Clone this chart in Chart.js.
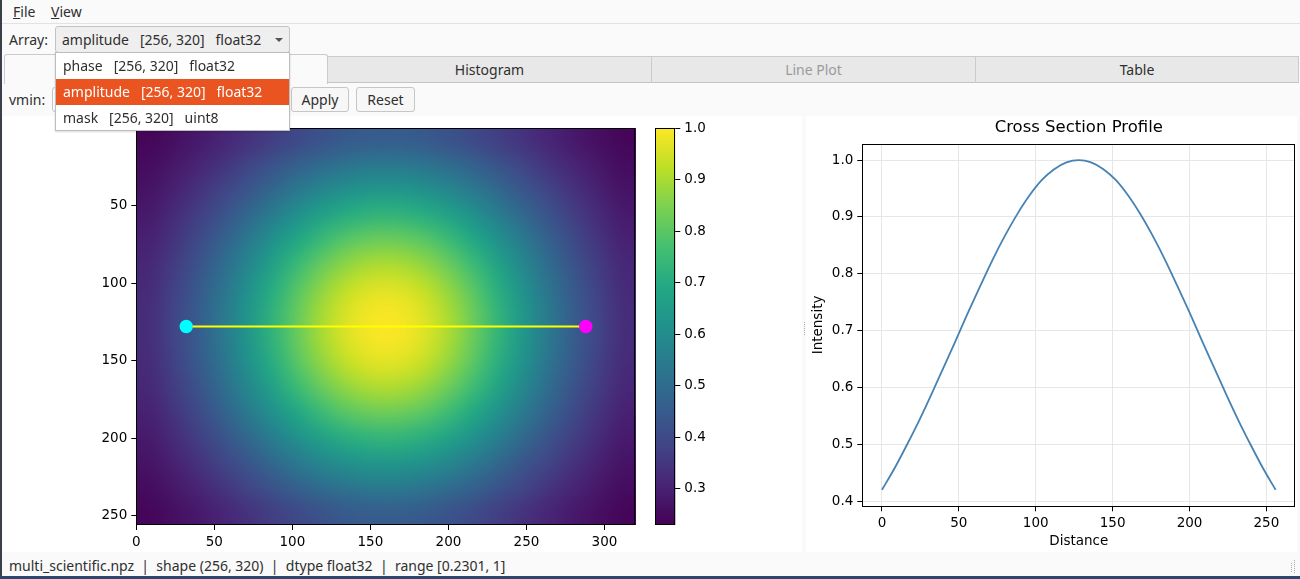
<!DOCTYPE html>
<html>
<head>
<meta charset="utf-8">
<script src="https://cdn.jsdelivr.net/npm/chart.js"></script>
<style>
html,body{margin:0;padding:0;}
body{width:1300px;height:579px;position:relative;overflow:hidden;background:#fafafa;font-family:"Noto Sans",sans-serif;font-size:14px;color:#2f2f2f;}
.a{position:absolute;white-space:pre;}
#leftedge{position:absolute;left:0;top:0;width:2px;height:579px;background:#3b3f46;z-index:50;}
#bottomedge{position:absolute;left:0;top:576px;width:1300px;height:3px;background:#2d4670;z-index:50;}
#menubar{position:absolute;left:0;top:0;width:1300px;height:23px;border-bottom:1px solid #e2e2e2;}
.mi{position:absolute;top:2px;line-height:20px;}
#combo{position:absolute;left:55px;top:26px;width:233px;height:25px;border:1px solid #c3c3c3;border-radius:3px;background:#efefef;}
#combo .t{position:absolute;left:6px;top:0;line-height:25px;white-space:pre;}
#combo .arr{position:absolute;left:219px;top:11px;width:0;height:0;border-left:4px solid transparent;border-right:4px solid transparent;border-top:4px solid #555;}
.tab{position:absolute;top:56px;background:#e8e8e8;border:1px solid #cbcbcb;border-bottom:1px solid #c4c4c4;box-sizing:border-box;height:27px;text-align:center;line-height:25px;color:#2f2f2f;}
.tab.sel{top:54px;height:30px;background:#fafafa;border-bottom:none;border-radius:3px 3px 0 0;}
.tab.dis{color:#9a9a9a;}
#vmininput{position:absolute;left:52px;top:87px;width:236px;height:25px;border:1px solid #c3c3c3;border-radius:3px;background:#fff;box-sizing:border-box;}
.btn{position:absolute;top:87px;height:25px;border:1px solid #c6c6c6;border-radius:3px;background:#f7f7f7;box-sizing:border-box;text-align:center;line-height:23px;}
#popup{position:absolute;left:55px;top:52px;width:235px;height:79px;background:#fff;border:1px solid #bdbdbd;box-sizing:border-box;z-index:20;box-shadow:0 1px 2px rgba(0,0,0,0.15);}
.it{position:absolute;left:0;width:233px;height:26px;line-height:26px;padding-left:7px;box-sizing:border-box;white-space:pre;}
.it.hl{background:#e95420;color:#fff;}
#figL{position:absolute;left:3px;top:116px;width:799px;height:436px;background:#fff;}
#figR{position:absolute;left:806px;top:116px;width:491px;height:436px;background:#fff;}
canvas{position:absolute;}
#status{position:absolute;left:9px;top:555px;line-height:22px;white-space:pre;}
.dots{position:absolute;width:1px;background-image:linear-gradient(#aaa 50%,transparent 50%);background-size:1px 2px;}
</style>
</head>
<body>
<div id="leftedge"></div>
<div id="bottomedge"></div>
<div id="menubar">
  <span class="mi" style="left:13px"><u>F</u>ile</span>
  <span class="mi" style="left:51px"><u>V</u>iew</span>
</div>
<div class="a" style="left:9px;top:29px;line-height:22px;">Array:</div>
<div id="combo"><span class="t">amplitude   [256, 320]   float32</span><span class="arr"></span></div>

<div class="tab sel" style="left:4px;width:324px;"></div>
<div class="tab" style="left:327px;width:325px;">Histogram</div>
<div class="tab dis" style="left:651px;width:325px;">Line Plot</div>
<div class="tab" style="left:975px;width:324px;">Table</div>

<div class="a" style="left:9px;top:89px;line-height:22px;">vmin:</div>
<div id="vmininput"></div>
<div class="btn" style="left:291px;width:58px;">Apply</div>
<div class="btn" style="left:356px;width:59px;">Reset</div>

<div id="popup">
  <div class="it" style="top:0px;">phase   [256, 320]   float32</div>
  <div class="it hl" style="top:26px;">amplitude   [256, 320]   float32</div>
  <div class="it" style="top:52px;">mask   [256, 320]   uint8</div>
</div>

<div id="figL">
  <canvas id="heat" width="799" height="436" style="left:0;top:0;"></canvas>
  <canvas id="cbar" width="80" height="436" style="left:637px;top:0;"></canvas>
</div>
<div class="dots" style="left:804px;top:322px;height:14px;"></div>
<div id="figR">
  <canvas id="prof" width="491" height="436" style="left:0;top:0;"></canvas>
</div>
<div id="status">multi_scientific.npz  |  shape (256, 320)  |  dtype float32  |  range [0.2301, 1]</div>
<div class="dots" style="left:1291px;top:563px;height:10px;"></div>
<div class="dots" style="left:1294px;top:560px;height:13px;"></div>

<script>
// ---------- DATA ----------
// Heatmap samples (cell centres every 16 px; 16 rows x 20 columns), amplitude array 256x320
const heatExtentX = [0, 320];
const heatExtentY = [0, 256];
const heatValues = [
 [0.242,0.260,0.283,0.310,0.340,0.371,0.401,0.427,0.446,0.456,0.456,0.446,0.427,0.401,0.371,0.340,0.310,0.283,0.260,0.242],
 [0.255,0.280,0.310,0.346,0.386,0.427,0.467,0.501,0.526,0.540,0.540,0.526,0.501,0.467,0.427,0.386,0.346,0.310,0.280,0.255],
 [0.270,0.301,0.340,0.386,0.436,0.489,0.540,0.583,0.616,0.633,0.633,0.616,0.583,0.540,0.489,0.436,0.386,0.340,0.301,0.270],
 [0.286,0.324,0.371,0.427,0.489,0.554,0.616,0.669,0.708,0.729,0.729,0.708,0.669,0.616,0.554,0.489,0.427,0.371,0.324,0.286],
 [0.301,0.346,0.401,0.467,0.540,0.616,0.688,0.751,0.797,0.822,0.822,0.797,0.751,0.688,0.616,0.540,0.467,0.401,0.346,0.301],
 [0.314,0.364,0.427,0.501,0.583,0.669,0.751,0.822,0.874,0.902,0.902,0.874,0.822,0.751,0.669,0.583,0.501,0.427,0.364,0.314],
 [0.324,0.378,0.446,0.526,0.616,0.708,0.797,0.874,0.931,0.961,0.961,0.931,0.874,0.797,0.708,0.616,0.526,0.446,0.378,0.324],
 [0.329,0.386,0.456,0.540,0.633,0.729,0.822,0.902,0.961,0.992,0.992,0.961,0.902,0.822,0.729,0.633,0.540,0.456,0.386,0.329],
 [0.329,0.386,0.456,0.540,0.633,0.729,0.822,0.902,0.961,0.992,0.992,0.961,0.902,0.822,0.729,0.633,0.540,0.456,0.386,0.329],
 [0.324,0.378,0.446,0.526,0.616,0.708,0.797,0.874,0.931,0.961,0.961,0.931,0.874,0.797,0.708,0.616,0.526,0.446,0.378,0.324],
 [0.314,0.364,0.427,0.501,0.583,0.669,0.751,0.822,0.874,0.902,0.902,0.874,0.822,0.751,0.669,0.583,0.501,0.427,0.364,0.314],
 [0.301,0.346,0.401,0.467,0.540,0.616,0.688,0.751,0.797,0.822,0.822,0.797,0.751,0.688,0.616,0.540,0.467,0.401,0.346,0.301],
 [0.286,0.324,0.371,0.427,0.489,0.554,0.616,0.669,0.708,0.729,0.729,0.708,0.669,0.616,0.554,0.489,0.427,0.371,0.324,0.286],
 [0.270,0.301,0.340,0.386,0.436,0.489,0.540,0.583,0.616,0.633,0.633,0.616,0.583,0.540,0.489,0.436,0.386,0.340,0.301,0.270],
 [0.255,0.280,0.310,0.346,0.386,0.427,0.467,0.501,0.526,0.540,0.540,0.526,0.501,0.467,0.427,0.386,0.346,0.310,0.280,0.255],
 [0.242,0.260,0.283,0.310,0.340,0.371,0.401,0.427,0.446,0.456,0.456,0.446,0.427,0.401,0.371,0.340,0.310,0.283,0.260,0.242]
];
const vmin = 0.2301;
const vmax = 1.0;

// Cross-section line endpoints (image coords)
const lineX = [32, 288];
const lineY = [128, 128];

// Profile along the line
const profileDist = [0,8,16,24,32,40,48,56,64,72,80,88,96,104,112,120,128,136,144,152,160,168,176,184,192,200,208,216,224,232,240,248,256];
const profileVals = [0.420,0.457,0.498,0.541,0.587,0.635,0.683,0.732,0.779,0.825,0.867,0.905,0.938,0.965,0.984,0.996,1.000,0.996,0.984,0.965,0.938,0.905,0.867,0.825,0.779,0.732,0.683,0.635,0.587,0.541,0.498,0.457,0.420];

// Tick labels
const heatXTicks = [0,50,100,150,200,250,300];
const heatYTicks = [50,100,150,200,250];
const cbarTicks = [0.3,0.4,0.5,0.6,0.7,0.8,0.9,1.0];
const profXTicks = [0,50,100,150,200,250];
const profYTicks = [0.4,0.5,0.6,0.7,0.8,0.9,1.0];
const profXRange = [-12.8, 268.8];
const profYRange = [0.391, 1.029];

// ---------- STYLE ----------
const viridis = ['#440154','#482475','#414487','#355f8d','#2a788e','#21918c','#22a884','#44bf70','#7ad151','#bddf26','#fde725'];
const endpointColors = ['#00ffff', '#ff00ff'];
const FONT = 'DejaVu Sans';
Chart.defaults.font.family = FONT;
Chart.defaults.font.size = 13.5;
Chart.defaults.color = '#000';

function hexToRgb(h){return [parseInt(h.substr(1,2),16),parseInt(h.substr(3,2),16),parseInt(h.substr(5,2),16)];}
function cmap(t){
  t = Math.max(0, Math.min(1, t));
  const p = t * (viridis.length - 1);
  const i = Math.min(viridis.length - 2, Math.floor(p));
  const f = p - i;
  const a = hexToRgb(viridis[i]), b = hexToRgb(viridis[i+1]);
  return [0,1,2].map(k => Math.round(a[k] + (b[k]-a[k]) * f));
}

// offscreen image of the heat samples
const rows = heatValues.length, cols = heatValues[0].length;
const off = document.createElement('canvas');
off.width = cols; off.height = rows;
const octx = off.getContext('2d');
const img = octx.createImageData(cols, rows);
heatValues.forEach((row, r) => row.forEach((v, c) => {
  const col = cmap((v - vmin) / (vmax - vmin));
  const o = (r * cols + c) * 4;
  img.data[o] = col[0]; img.data[o+1] = col[1]; img.data[o+2] = col[2]; img.data[o+3] = 255;
}));
octx.putImageData(img, 0, 0);

const framePlugin = {
  id: 'frame',
  afterDatasetsDraw(chart) {
    const {ctx, chartArea: a} = chart;
    ctx.save();
    ctx.strokeStyle = '#000'; ctx.lineWidth = 1;
    ctx.strokeRect(Math.round(a.left) + 0.5, Math.round(a.top) + 0.5, Math.round(a.right - a.left) - 1, Math.round(a.bottom - a.top) - 1);
    ctx.restore();
  }
};

const heatImagePlugin = {
  id: 'heatImage',
  beforeDatasetsDraw(chart) {
    const {ctx, scales: {x, y}} = chart;
    const x0 = x.getPixelForValue(heatExtentX[0]), x1 = x.getPixelForValue(heatExtentX[1]);
    const y0 = y.getPixelForValue(heatExtentY[0]), y1 = y.getPixelForValue(heatExtentY[1]);
    ctx.save();
    ctx.imageSmoothingEnabled = true;
    ctx.imageSmoothingQuality = 'high';
    ctx.drawImage(off, x0, Math.min(y0, y1), x1 - x0, Math.abs(y1 - y0));
    ctx.restore();
  }
};

const cbarPlugin = {
  id: 'cbarFill',
  beforeDatasetsDraw(chart) {
    const {ctx, chartArea: a, scales: {y}} = chart;
    const yb = y.getPixelForValue(vmin), yt = y.getPixelForValue(vmax);
    const g = ctx.createLinearGradient(0, yb, 0, yt);
    viridis.forEach((c, i) => g.addColorStop(i / (viridis.length - 1), c));
    ctx.save();
    ctx.fillStyle = g;
    ctx.fillRect(a.left, yt, a.right - a.left, yb - yt);
    ctx.restore();
  }
};

function axisCommon(ticksArr, fmt) {
  return {
    afterBuildTicks: s => { s.ticks = ticksArr.map(v => ({value: v})); },
    ticks: { color: '#000', padding: 4, autoSkip: false, maxRotation: 0, callback: fmt || (v => String(v)) },
    grid: { drawOnChartArea: false, drawTicks: true, tickLength: 5, tickColor: '#000', color: '#000', tickWidth: 1 },
    border: { display: false }
  };
}

// ---------- HEATMAP ----------
new Chart(document.getElementById('heat'), {
  type: 'scatter',
  data: {
    datasets: [{
      data: lineX.map((x, i) => ({x: x, y: lineY[i]})),
      showLine: true,
      borderColor: '#ffff00',
      borderWidth: 2,
      pointRadius: 6.7,
      pointHoverRadius: 6.7,
      pointBackgroundColor: endpointColors,
      pointBorderWidth: 0,
      clip: false
    }]
  },
  options: {
    responsive: false, animation: false, events: [],
    layout: { padding: { left: 88.3, right: 166.3, top: 10, bottom: 3 } },
    plugins: { legend: { display: false }, tooltip: { enabled: false } },
    scales: {
      x: Object.assign({ type: 'linear', min: heatExtentX[0], max: heatExtentX[1], afterFit: s => { s.height = 24; } }, axisCommon(heatXTicks)),
      y: Object.assign({ type: 'linear', reverse: true, min: heatExtentY[0], max: heatExtentY[1], afterFit: s => { s.width = 45; } }, axisCommon(heatYTicks))
    }
  },
  plugins: [heatImagePlugin, framePlugin]
});

// ---------- COLORBAR ----------
new Chart(document.getElementById('cbar'), {
  type: 'scatter',
  data: { datasets: [] },
  options: {
    responsive: false, animation: false, events: [],
    layout: { padding: { left: 15.3, right: 4.7, top: 10, bottom: 27 } },
    plugins: { legend: { display: false }, tooltip: { enabled: false } },
    scales: {
      x: { display: false, min: 0, max: 1 },
      y: Object.assign({ type: 'linear', position: 'right', min: vmin, max: vmax, afterFit: s => { s.width = 40; } }, axisCommon(cbarTicks, v => v.toFixed(1)))
    }
  },
  plugins: [cbarPlugin, framePlugin]
});

// ---------- PROFILE ----------
const profX = Object.assign({ type: 'linear', min: profXRange[0], max: profXRange[1], afterFit: s => { s.height = 43.2; },
  title: { display: true, text: 'Distance', color: '#000', font: { size: 13.5 }, padding: { top: 0, bottom: 0 } } }, axisCommon(profXTicks));
profX.grid = { drawOnChartArea: true, drawTicks: true, tickLength: 5, tickColor: '#000', color: '#e6e6e6', lineWidth: 1 };
const profY = Object.assign({ type: 'linear', min: profYRange[0], max: profYRange[1], afterFit: s => { s.width = 52; },
  title: { display: true, text: 'Intensity', color: '#000', font: { size: 13.5 }, padding: { top: 0, bottom: 0 } } }, axisCommon(profYTicks, v => v.toFixed(1)));
profY.grid = { drawOnChartArea: true, drawTicks: true, tickLength: 5, tickColor: '#000', color: '#e6e6e6', lineWidth: 1 };

new Chart(document.getElementById('prof'), {
  type: 'scatter',
  data: {
    datasets: [{
      data: profileDist.map((d, i) => ({x: d, y: profileVals[i]})),
      showLine: true,
      borderColor: '#4682b4',
      borderWidth: 1.8,
      pointRadius: 0,
      cubicInterpolationMode: 'monotone'
    }]
  },
  options: {
    responsive: false, animation: false, events: [],
    layout: { padding: { left: 4.3, right: 1.7, top: 0, bottom: 2.5 } },
    plugins: {
      legend: { display: false }, tooltip: { enabled: false },
      title: { display: true, fullSize: false, text: 'Cross Section Profile', color: '#000', font: { size: 16.5, weight: 'normal' }, padding: { top: 1.4, bottom: 6.4 } }
    },
    scales: { x: profX, y: profY }
  },
  plugins: [framePlugin]
});
</script>
</body>
</html>
